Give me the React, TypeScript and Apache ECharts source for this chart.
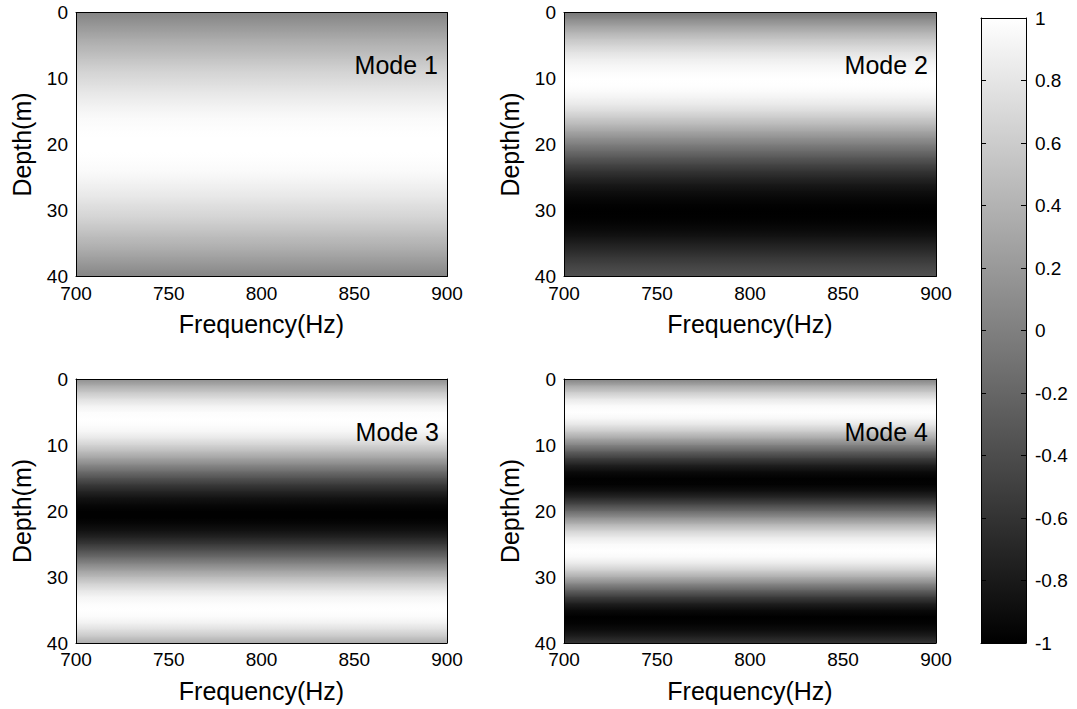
import React, { useEffect, useRef } from "react";
import * as echarts from "echarts";

// ---- data ----
const depths = [0, 1, 2, 3, 4, 5, 6, 7, 8, 9, 10, 11, 12, 13, 14, 15, 16, 17, 18, 19, 20,
  21, 22, 23, 24, 25, 26, 27, 28, 29, 30, 31, 32, 33, 34, 35, 36, 37, 38, 39, 40];

const mode1 = [0.04, 0.11, 0.19, 0.26, 0.34, 0.41, 0.47, 0.54, 0.6, 0.66, 0.71, 0.76, 0.81, 0.85,
  0.89, 0.93, 0.96, 0.98, 0.99, 1.0, 1.0, 1.0, 0.99, 0.98, 0.96, 0.93, 0.89, 0.85, 0.81, 0.76,
  0.71, 0.66, 0.6, 0.54, 0.47, 0.41, 0.34, 0.26, 0.19, 0.11, 0.04];

const mode2 = [-0.07, 0.1, 0.26, 0.41, 0.55, 0.67, 0.78, 0.87, 0.93, 0.97, 1.0, 0.99, 0.96, 0.9,
  0.82, 0.71, 0.58, 0.44, 0.29, 0.13, -0.02, -0.17, -0.32, -0.46, -0.59, -0.7, -0.8, -0.88,
  -0.94, -0.98, -1.0, -0.99, -0.96, -0.91, -0.84, -0.76, -0.67, -0.58, -0.5, -0.42, -0.36];

const mode3 = [0.12, 0.36, 0.58, 0.76, 0.9, 0.98, 1.0, 0.98, 0.92, 0.8, 0.65, 0.47, 0.27, 0.06,
  -0.15, -0.36, -0.55, -0.72, -0.85, -0.94, -0.99, -0.99, -0.94, -0.85, -0.72, -0.55, -0.36,
  -0.15, 0.06, 0.27, 0.47, 0.65, 0.8, 0.92, 0.98, 1.0, 0.97, 0.88, 0.74, 0.56, 0.34];

const mode4 = [0.02, 0.33, 0.6, 0.82, 0.96, 1.0, 0.94, 0.78, 0.56, 0.3, 0.02, -0.26, -0.52,
  -0.75, -0.91, -0.99, -0.98, -0.87, -0.68, -0.43, -0.15, 0.14, 0.42, 0.66, 0.85, 0.96, 1.0,
  0.95, 0.82, 0.61, 0.35, 0.06, -0.24, -0.52, -0.76, -0.92, -1.0, -0.98, -0.9, -0.76, -0.58];

const modes = [mode1, mode2, mode3, mode4];
const modeNames = ["Mode 1", "Mode 2", "Mode 3", "Mode 4"];

const freqTicks = [700, 750, 800, 850, 900];
const depthTicks = [0, 10, 20, 30, 40];
const cbarTicks = [-1, -0.8, -0.6, -0.4, -0.2, 0, 0.2, 0.4, 0.6, 0.8, 1];

const FONT = "'Liberation Sans', Arial, Helvetica, sans-serif";

function gray(v: number): string {
  const lo = cbarTicks[0];
  const hi = cbarTicks[cbarTicks.length - 1];
  let t = (v - lo) / (hi - lo);
  t = Math.max(0, Math.min(1, t));
  const g = Math.round(t * 255);
  return `rgb(${g},${g},${g})`;
}

export default function App() {
  const ref = useRef<HTMLDivElement>(null);

  useEffect(() => {
    if (!ref.current) return;
    const chart = echarts.init(ref.current, undefined, { renderer: "svg" });

    const grids = [
      { left: 76, top: 12.5, width: 371, height: 264 },
      { left: 564, top: 12.5, width: 372, height: 264 },
      { left: 76, top: 379, width: 371, height: 264 },
      { left: 564, top: 379, width: 372, height: 264 },
      { left: 981, top: 18, width: 45, height: 625 },
    ];

    const lineStyle = { color: "#000", width: 1 };
    const xAxes: any[] = [];
    const yAxes: any[] = [];
    const series: any[] = [];
    const graphics: any[] = [];

    const fMin = freqTicks[0];
    const fMax = freqTicks[freqTicks.length - 1];
    const dMin = depthTicks[0];
    const dMax = depthTicks[depthTicks.length - 1];

    for (let i = 0; i < 4; i++) {
      xAxes.push({
        type: "value", gridIndex: i, position: "bottom", min: fMin, max: fMax,
        interval: freqTicks[1] - freqTicks[0], z: 10,
        name: "Frequency(Hz)", nameLocation: "middle", nameGap: 35,
        nameTextStyle: { fontFamily: FONT, fontSize: 25, color: "#000" },
        axisLine: { show: true, onZero: false, lineStyle },
        axisTick: { show: false },
        splitLine: { show: false },
        axisLabel: { fontFamily: FONT, fontSize: 19, color: "#000", margin: 7 },
      });
      xAxes.push({
        type: "value", gridIndex: i, position: "top", min: fMin, max: fMax, z: 10,
        axisLine: { show: true, onZero: false, lineStyle },
        axisTick: { show: false }, axisLabel: { show: false }, splitLine: { show: false },
      });
      yAxes.push({
        type: "value", gridIndex: i, position: "left", min: dMin, max: dMax, inverse: true,
        interval: depthTicks[1] - depthTicks[0], z: 10,
        name: "Depth(m)", nameLocation: "middle", nameGap: 42,
        nameTextStyle: { fontFamily: FONT, fontSize: 25, color: "#000" },
        axisLine: { show: true, onZero: false, lineStyle },
        axisTick: { show: false },
        splitLine: { show: false },
        axisLabel: { fontFamily: FONT, fontSize: 19, color: "#000", margin: 8 },
      });
      yAxes.push({
        type: "value", gridIndex: i, position: "right", min: dMin, max: dMax, inverse: true, z: 10,
        axisLine: { show: true, onZero: false, lineStyle },
        axisTick: { show: false }, axisLabel: { show: false }, splitLine: { show: false },
      });

      const m = modes[i];
      const data = depths.slice(0, -1).map((d, k) => [d, depths[k + 1], m[k], m[k + 1]]);
      series.push({
        type: "custom",
        xAxisIndex: 2 * i,
        yAxisIndex: 2 * i,
        clip: true,
        z: 2,
        silent: true,
        data,
        encode: { x: -1, y: [0, 1] },
        renderItem: (params: any, api: any) => {
          const d0 = api.value(0);
          const d1 = api.value(1);
          const v0 = api.value(2);
          const v1 = api.value(3);
          const p0 = api.coord([fMin, d0]);
          const p1 = api.coord([fMax, d1]);
          return {
            type: "rect",
            shape: { x: p0[0], y: p0[1], width: p1[0] - p0[0], height: p1[1] - p0[1] + 0.8 },
            style: {
              fill: {
                type: "linear", x: 0, y: 0, x2: 0, y2: 1,
                colorStops: [
                  { offset: 0, color: gray(v0) },
                  { offset: 1, color: gray(v1) },
                ],
              },
            },
          };
        },
      });
    }

    const labelPos = [
      [438, 65],
      [928, 65],
      [439, 432],
      [928, 432],
    ];
    for (let i = 0; i < 4; i++) {
      graphics.push({
        type: "text",
        x: labelPos[i][0],
        y: labelPos[i][1],
        z: 20,
        style: {
          text: modeNames[i],
          fontFamily: FONT,
          fontSize: 25,
          fill: "#000",
          textAlign: "right",
          textVerticalAlign: "middle",
        },
      });
    }

    // colorbar
    const cMin = cbarTicks[0];
    const cMax = cbarTicks[cbarTicks.length - 1];
    xAxes.push({
      type: "value", gridIndex: 4, position: "bottom", min: 0, max: 1, z: 10,
      axisLine: { show: true, onZero: false, lineStyle },
      axisTick: { show: false }, axisLabel: { show: false }, splitLine: { show: false },
    });
    xAxes.push({
      type: "value", gridIndex: 4, position: "top", min: 0, max: 1, z: 10,
      axisLine: { show: true, onZero: false, lineStyle },
      axisTick: { show: false }, axisLabel: { show: false }, splitLine: { show: false },
    });
    yAxes.push({
      type: "value", gridIndex: 4, position: "left", min: cMin, max: cMax,
      interval: 0.2, z: 10,
      axisLine: { show: true, onZero: false, lineStyle },
      axisTick: { show: true, inside: true, length: 5, lineStyle },
      axisLabel: { show: false }, splitLine: { show: false },
    });
    yAxes.push({
      type: "value", gridIndex: 4, position: "right", min: cMin, max: cMax,
      interval: 0.2, z: 10,
      axisLine: { show: true, onZero: false, lineStyle },
      axisTick: { show: true, inside: true, length: 5, lineStyle },
      axisLabel: {
        fontFamily: FONT, fontSize: 19, color: "#000", margin: 9,
        padding: [6, 0, 0, 0],
      },
      splitLine: { show: false },
    });
    series.push({
      type: "custom",
      xAxisIndex: 8,
      yAxisIndex: 8,
      clip: true,
      silent: true,
      z: 2,
      data: [[0, cMin, 1, cMax]],
      encode: { x: [0, 2], y: [1, 3] },
      renderItem: (params: any, api: any) => {
        const p0 = api.coord([api.value(0), api.value(3)]);
        const p1 = api.coord([api.value(2), api.value(1)]);
        return {
          type: "rect",
          shape: { x: p0[0], y: p0[1], width: p1[0] - p0[0], height: p1[1] - p0[1] },
          style: {
            fill: {
              type: "linear", x: 0, y: 0, x2: 0, y2: 1,
              colorStops: [
                { offset: 0, color: gray(cMax) },
                { offset: 1, color: gray(cMin) },
              ],
            },
          },
        };
      },
    });

    chart.setOption({
      animation: false,
      backgroundColor: "#fff",
      textStyle: { fontFamily: FONT },
      grid: grids,
      xAxis: xAxes,
      yAxis: yAxes,
      series,
      graphic: graphics,
    });

    return () => chart.dispose();
  }, []);

  return (
    <div
      ref={ref}
      style={{ position: "absolute", left: 0, top: 0, width: 1077, height: 709, background: "#fff" }}
    />
  );
}
